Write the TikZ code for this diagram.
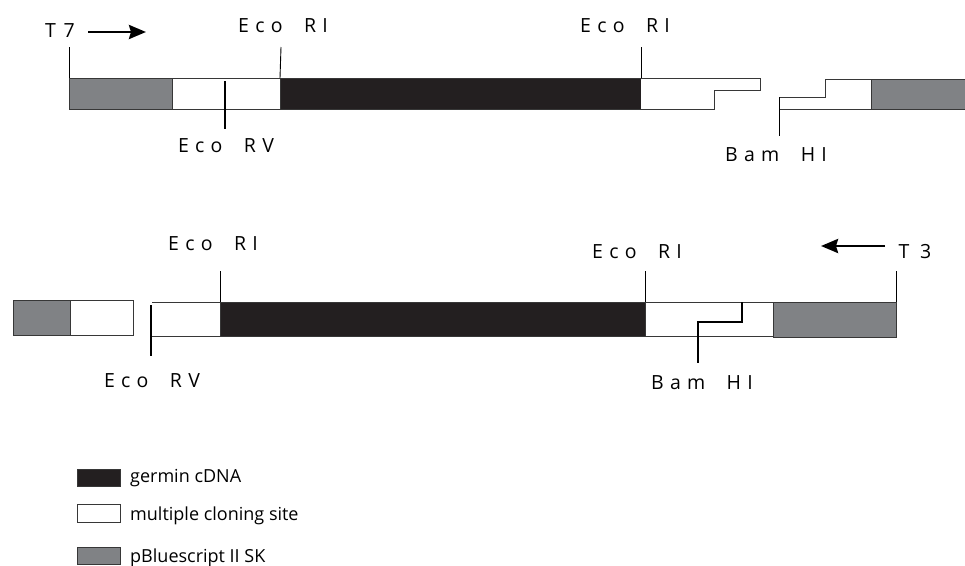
\documentclass[tikz,border=0pt]{standalone}
\usepackage{fontspec}
\setmainfont{Open Sans}
\usetikzlibrary{fit,arrows.meta}
\definecolor{gene}{RGB}{35,31,32}
\definecolor{vec}{RGB}{128,130,133}
\definecolor{edge}{RGB}{55,55,55}
\newcommand\ga{\kern0.32em}
\newcommand\gw{\kern1.1em}
\begin{document}
\begin{tikzpicture}[x=1pt,y=-1pt,
 box/.style={draw=edge, line width=1pt, inner sep=0pt, outer sep=0pt},
 tickline/.style={draw=black, line width=0.9pt},
 site/.style={draw=black, line width=2.2pt},
 lab/.style={font=\fontsize{19.5}{22}\selectfont, inner sep=0pt},
 leg/.style={font=\fontsize{18}{20}\selectfont, inner sep=0pt, anchor=base west},
 primer/.style={draw=black, line width=2.8pt, -{Stealth[length=17pt,width=14pt,inset=2pt]}}]
\useasboundingbox (0,0) rectangle (965,565);

% ---------- top construct ----------
\node[box, fill=vec, fit={(69,78)(172,109)}] (g1) {};
\node[box, fill=white, fit={(172,78)(280,109)}] (w1) {};
\node[box, fill=gene, fit={(280,78)(641,109)}] (b1) {};
\coordinate (s1) at (760,78);
\coordinate (s2) at (760,90);
\coordinate (s3) at (714,90);
\coordinate (s4) at (714,109);
\draw[box, fill=white] (b1.north east) -- (s1) -- (s2) -- (s3) -- (s4) -- (b1.south east);

\node[box, fill=vec, fit={(871,79)(965,109)}] (g2) {};
\coordinate (bam1) at (779,97);
\coordinate (r1) at (825,97);
\coordinate (r2) at (825,79);
\coordinate (r3) at (779,109);
\draw[box, fill=white] (bam1) -- (r1) -- (r2) -- (g2.north west) -- (g2.south west) -- (r3);
\coordinate (bam1end) at (779,136);
\draw[tickline] (bam1) -- (bam1end);

% ticks
\coordinate (t7top) at (69,47);
\draw[tickline] (t7top) -- (g1.north west);
\coordinate (eco1top) at (281,47);
\draw[tickline] (eco1top) -- (b1.north west);
\coordinate (eco2top) at (641,47);
\draw[tickline] (eco2top) -- (b1.north east);
\coordinate (rv1a) at (225,81);
\coordinate (rv1b) at (225,129);
\draw[site] (rv1a) -- (rv1b);

% labels
\node[lab] (t7) at (60,31) {T\kern0.4em 7};
\coordinate (t7a) at (88,32);
\coordinate (t7b) at (146,32);
\draw[primer] (t7a) -- (t7b);
\node[lab] (eco1) at (283,26) {E\ga c\ga o\gw R\ga I};
\node[lab] (eco2) at (625,26) {E\ga c\ga o\gw R\ga I};
\node[lab] (rv1) at (226,146) {E\ga c\ga o\gw R\ga V};
\node[lab] (bamlab1) at (776,155) {B\ga a\ga m\gw H\ga I};

% ---------- bottom construct ----------
\node[box, fill=vec, fit={(13,300)(70,335)}] (gL) {};
\node[box, fill=white, fit={(70,300)(133,335)}] (wL) {};
\node[box, fill=gene, fit={(220,302)(645,336)}] (b2) {};
\coordinate (m1) at (152,302);
\coordinate (m2) at (152,336);
\path[fill=white] (m1) -- (b2.north west) -- (b2.south west) -- (m2) -- cycle;
\draw[box] (m1) -- (b2.north west);
\draw[box] (m2) -- (b2.south west);
\coordinate (rv2a) at (151,305);
\coordinate (rv2b) at (151,356);
\draw[site] (rv2a) -- (rv2b);

\node[box, fill=white, fit={(645,302)(773,336)}] (w3) {};
\node[box, fill=vec, fit={(773,302)(896,337)}] (g3) {};

\coordinate (eco3top) at (220,271);
\draw[tickline] (eco3top) -- (b2.north west);
\coordinate (eco4top) at (645,271);
\draw[tickline] (eco4top) -- (b2.north east);
\coordinate (t3top) at (896,271);
\draw[tickline] (t3top) -- (g3.north east);

\coordinate (z1) at (742,302);
\coordinate (z2) at (742,322);
\coordinate (z3) at (698,322);
\coordinate (z4) at (698,363);
\draw[site] (z1) -- (z2) -- (z3) -- (z4);

\node[lab] (eco3) at (213,244) {E\ga c\ga o\gw R\ga I};
\node[lab] (eco4) at (637,252) {E\ga c\ga o\gw R\ga I};
\node[lab] (t3) at (915,252) {T\kern0.55em 3};
\coordinate (t3a) at (885,246);
\coordinate (t3b) at (821,246);
\draw[primer] (t3a) -- (t3b);
\node[lab] (bamlab2) at (702,383) {B\ga a\ga m\gw H\ga I};
\node[lab] (rv2) at (152,381) {E\ga c\ga o\gw R\ga V};

% ---------- legend ----------
\node[box, fill=gene, fit={(77,469)(120,486)}] (k1) {};
\node[box, fill=white, fit={(77,504)(120,522)}] (k2) {};
\node[box, fill=vec, fit={(77,547)(120,564)}] (k3) {};
\node[leg] (k1t) at (130,482) {germin cDNA};
\node[leg] (k2t) at (130,520) {multiple cloning site};
\node[leg] (k3t) at (130,562) {pBluescript II SK};
\end{tikzpicture}
\end{document}
